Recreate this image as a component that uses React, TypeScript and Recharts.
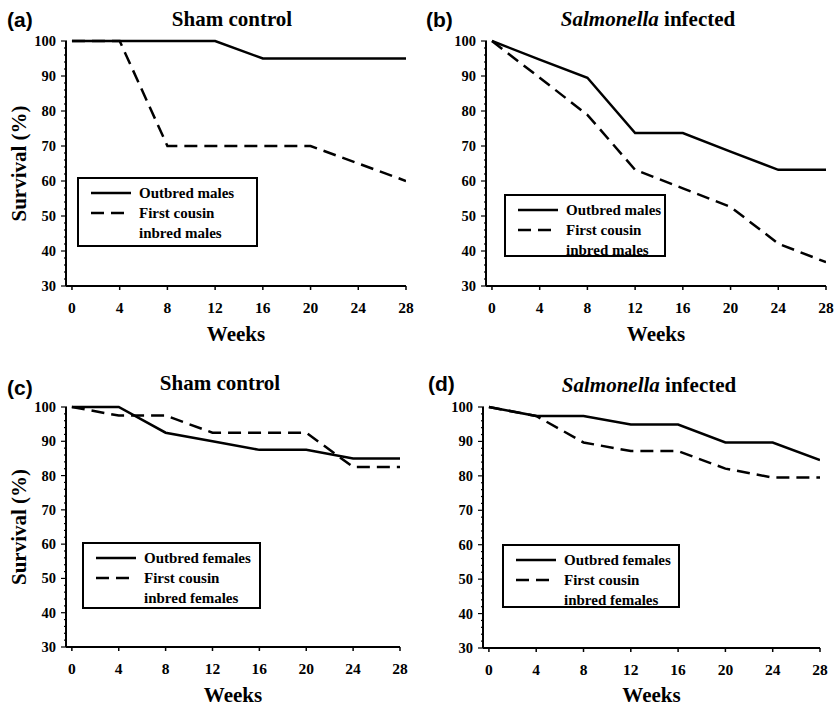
import React from "react";
import { LineChart, Line, XAxis, YAxis, Legend, Label } from "recharts";

const weeks = [0, 4, 8, 12, 16, 20, 24, 28];

// (a) males, sham control
const maleShamOutbred = [100, 100, 100, 100, 95, 95, 95, 95];
const maleShamInbred = [100, 100, 70, 70, 70, 70, 65, 60];
// (b) males, Salmonella infected
const maleSalOutbred = [100, 94.7, 89.5, 73.7, 73.7, 68.4, 63.2, 63.2];
const maleSalInbred = [100, 89.5, 78.9, 63.2, 57.9, 52.6, 42.1, 36.8];
// (c) females, sham control
const femaleShamOutbred = [100, 100, 92.5, 90, 87.5, 87.5, 85, 85];
const femaleShamInbred = [100, 97.5, 97.5, 92.5, 92.5, 92.5, 82.5, 82.5];
// (d) females, Salmonella infected
const femaleSalOutbred = [100, 97.4, 97.4, 94.9, 94.9, 89.7, 89.7, 84.6];
const femaleSalInbred = [100, 97.4, 89.7, 87.2, 87.2, 82.1, 79.5, 79.5];

const xTicks = [0, 4, 8, 12, 16, 20, 24, 28];
// major ticks every 10, minor ticks every 2
const yTicks = [
  30, 32, 34, 36, 38, 40, 42, 44, 46, 48, 50, 52, 54, 56, 58, 60, 62, 64,
  66, 68, 70, 72, 74, 76, 78, 80, 82, 84, 86, 88, 90, 92, 94, 96, 98, 100,
];

const SERIF = '"Liberation Serif", "Times New Roman", serif';
const SANS = '"Liberation Sans", Arial, sans-serif';

function buildRows(outbred: number[], inbred: number[]) {
  return weeks.map((week, i) => ({ week, outbred: outbred[i], inbred: inbred[i] }));
}

function YTick(props: any) {
  const { x, y, payload } = props;
  const major = payload.value % 10 === 0;
  return (
    <g>
      <line x1={major ? x - 5 : x - 2} x2={x + 1} y1={y} y2={y} stroke="#000" strokeWidth={1.2} />
      {major && (
        <text x={x - 10} y={y} dy={5} textAnchor="end" fontSize={14.5} fontWeight="bold" fill="#000">
          {payload.value}
        </text>
      )}
    </g>
  );
}

function SurvivalLabel(props: any) {
  const vb = props.viewBox || { x: 0, y: 0, width: 0, height: 0 };
  const cx = vb.x + 19;
  const cy = vb.y + vb.height / 2;
  return (
    <text
      x={cx}
      y={cy}
      transform={`rotate(-90, ${cx}, ${cy})`}
      textAnchor="middle"
      dy={7}
      fontSize={21}
      fontWeight="bold"
      fill="#000"
    >
      Survival (%)
    </text>
  );
}

function LegendBox(props: any) {
  const payload = [...(props.payload || [])].sort((a: any, b: any) =>
    a.dataKey === "outbred" ? -1 : b.dataKey === "outbred" ? 1 : 0
  );
  return (
    <div
      style={{
        border: "2px solid #000",
        background: "#fff",
        boxSizing: "border-box",
        width: "100%",
        height: "100%",
        padding: "4px 0 0 12px",
        fontFamily: SERIF,
        fontWeight: "bold",
        fontSize: 15,
        lineHeight: "20px",
        color: "#000",
        textAlign: "left",
      }}
    >
      {payload.map((entry: any) => (
        <div key={entry.dataKey} style={{ display: "flex", alignItems: "flex-start" }}>
          <svg width={40} height={20} style={{ flex: "none" }}>
            <line
              x1={0}
              x2={40}
              y1={10}
              y2={10}
              stroke="#000"
              strokeWidth={2.5}
              strokeDasharray={entry.dataKey === "inbred" ? "13 7" : undefined}
            />
          </svg>
          <span style={{ marginLeft: 8, whiteSpace: "pre-line" }}>{entry.value}</span>
        </div>
      ))}
    </div>
  );
}

interface PanelProps {
  left: number;
  top: number;
  width: number;
  height: number;
  margin: { top: number; right: number; bottom: number; left: number };
  yAxisWidth: number;
  xAxisHeight: number;
  rows: { week: number; outbred: number; inbred: number }[];
  letter: string;
  letterPos: { x: number; y: number };
  title: React.ReactNode;
  titleCenter: { x: number; y: number };
  showYLabel: boolean;
  legendBox: { left: number; top: number; width: number; height: number };
  outbredName: string;
  inbredName: string;
}

function Panel(p: PanelProps) {
  return (
    <div style={{ position: "absolute", left: p.left, top: p.top, width: p.width, height: p.height }}>
      <div
        style={{
          position: "absolute",
          left: p.letterPos.x,
          top: p.letterPos.y - 13,
          fontFamily: SANS,
          fontWeight: "bold",
          fontSize: 21,
          lineHeight: "26px",
        }}
      >
        {p.letter}
      </div>
      <div
        style={{
          position: "absolute",
          left: p.titleCenter.x - 150,
          width: 300,
          top: p.titleCenter.y - 13,
          textAlign: "center",
          fontFamily: SERIF,
          fontWeight: "bold",
          fontSize: 21,
          lineHeight: "26px",
        }}
      >
        {p.title}
      </div>
      <LineChart width={p.width} height={p.height} data={p.rows} margin={p.margin}>
        <XAxis
          dataKey="week"
          type="number"
          domain={[-0.5, 28]}
          ticks={xTicks}
          interval={0}
          allowDataOverflow
          height={p.xAxisHeight}
          tickSize={4}
          tickMargin={12}
          axisLine={{ stroke: "#000", strokeWidth: 2 }}
          tickLine={{ stroke: "#000", strokeWidth: 1.5 }}
          tick={{ fontSize: 15.5, fontWeight: "bold", fill: "#000" }}
        >
          <Label value="Weeks" position="insideBottom" offset={5} fontSize={21} fontWeight="bold" fill="#000" />
        </XAxis>
        <XAxis
          xAxisId="top"
          orientation="top"
          type="number"
          domain={[-0.5, 28]}
          height={0}
          tick={false}
          tickLine={false}
          axisLine={{ stroke: "#000", strokeWidth: 2 }}
        />
        <YAxis
          type="number"
          domain={[30, 100]}
          ticks={yTicks}
          interval={0}
          width={p.yAxisWidth}
          tickSize={0}
          tickMargin={0}
          tickLine={false}
          axisLine={{ stroke: "#000", strokeWidth: 2 }}
          tick={<YTick />}
        >
          {p.showYLabel && <Label content={<SurvivalLabel />} />}
        </YAxis>
        <YAxis
          yAxisId="right"
          orientation="right"
          type="number"
          domain={[30, 100]}
          width={0}
          tick={false}
          tickLine={false}
          axisLine={{ stroke: "#000", strokeWidth: 2 }}
        />
        <Line
          type="linear"
          dataKey="outbred"
          name={p.outbredName}
          stroke="#000"
          strokeWidth={2.5}
          dot={false}
          isAnimationActive={false}
        />
        <Line
          type="linear"
          dataKey="inbred"
          name={p.inbredName}
          stroke="#000"
          strokeWidth={2.5}
          strokeDasharray="13 7"
          dot={false}
          isAnimationActive={false}
        />
        <Legend
          layout="horizontal"
          align="center"
          verticalAlign="middle"
          content={<LegendBox />}
          wrapperStyle={{
            position: "absolute",
            left: p.legendBox.left,
            top: p.legendBox.top,
            width: p.legendBox.width,
            height: p.legendBox.height,
          }}
        />
      </LineChart>
    </div>
  );
}

const salmonellaTitle = (
  <span>
    <i>Salmonella</i> infected
  </span>
);

export default function App() {
  return (
    <div
      style={{
        position: "absolute",
        left: 0,
        top: 0,
        width: 834,
        height: 707,
        background: "#fff",
        fontFamily: SERIF,
        color: "#000",
      }}
    >
      <Panel
        left={0}
        top={0}
        width={420}
        height={350}
        margin={{ top: 41, right: 14, bottom: 4, left: 0 }}
        yAxisWidth={66}
        xAxisHeight={60}
        rows={buildRows(maleShamOutbred, maleShamInbred)}
        letter="(a)"
        letterPos={{ x: 7, y: 20 }}
        title="Sham control"
        titleCenter={{ x: 232, y: 19 }}
        showYLabel
        legendBox={{ left: 77, top: 177, width: 181, height: 70 }}
        outbredName="Outbred males"
        inbredName={"First cousin\ninbred males"}
      />
      <Panel
        left={420}
        top={0}
        width={414}
        height={350}
        margin={{ top: 41, right: 8, bottom: 4, left: 0 }}
        yAxisWidth={66}
        xAxisHeight={60}
        rows={buildRows(maleSalOutbred, maleSalInbred)}
        letter="(b)"
        letterPos={{ x: 6, y: 20 }}
        title={salmonellaTitle}
        titleCenter={{ x: 228, y: 19 }}
        showYLabel={false}
        legendBox={{ left: 84, top: 194, width: 162, height: 63 }}
        outbredName="Outbred males"
        inbredName={"First cousin\ninbred males"}
      />
      <Panel
        left={0}
        top={340}
        width={420}
        height={367}
        margin={{ top: 67, right: 20, bottom: 0, left: 0 }}
        yAxisWidth={66}
        xAxisHeight={60}
        rows={buildRows(femaleShamOutbred, femaleShamInbred)}
        letter="(c)"
        letterPos={{ x: 7, y: 48 }}
        title="Sham control"
        titleCenter={{ x: 220, y: 43 }}
        showYLabel
        legendBox={{ left: 82, top: 202, width: 179, height: 67 }}
        outbredName="Outbred females"
        inbredName={"First cousin\ninbred females"}
      />
      <Panel
        left={420}
        top={340}
        width={414}
        height={367}
        margin={{ top: 67, right: 14, bottom: 0, left: 0 }}
        yAxisWidth={63}
        xAxisHeight={59}
        rows={buildRows(femaleSalOutbred, femaleSalInbred)}
        letter="(d)"
        letterPos={{ x: 8, y: 44 }}
        title={salmonellaTitle}
        titleCenter={{ x: 229, y: 45 }}
        showYLabel={false}
        legendBox={{ left: 82, top: 204, width: 178, height: 64 }}
        outbredName="Outbred females"
        inbredName={"First cousin\ninbred females"}
      />
    </div>
  );
}
